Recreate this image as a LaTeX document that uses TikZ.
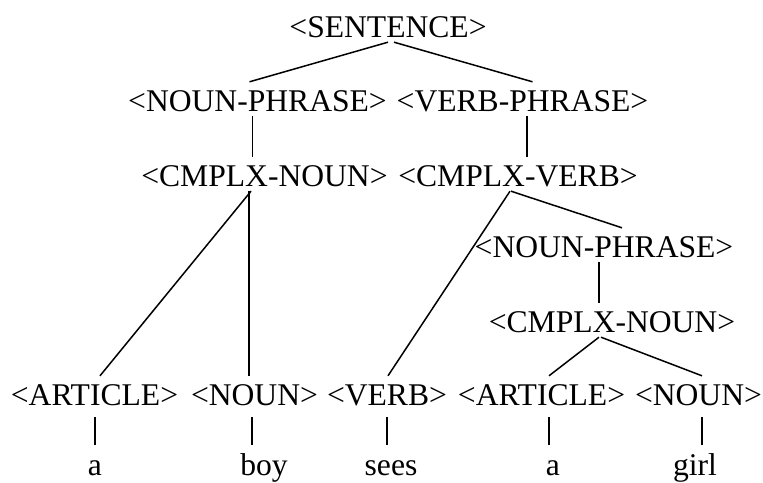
\documentclass[tikz,border=0pt]{standalone}
\usepackage{fontspec}
\setmainfont{Liberation Serif}
\tikzset{
  lbl/.style={anchor=base, inner xsep=0pt, inner ysep=5pt, text height=24pt, text depth=0pt,
    font=\fontsize{31.6}{36}\selectfont},
  edge/.style={line width=1.5pt},
  tick/.style={edge, shorten <=7pt, shorten >=1pt}
}
\begin{document}
\begin{tikzpicture}[x=1pt, y=-1pt]
  \useasboundingbox (0,0) rectangle (763,482);
  % rows of the tree
  \node[lbl] (s) at (388,37) {<SENTENCE>};
  \node[lbl] (np) at (257.5,111) {<NOUN-PHRASE>};
  \node[lbl] (vp) at (522.5,111) {<VERB-PHRASE>};
  \node[lbl] (cn) at (264.5,186) {<CMPLX-NOUN>};
  \node[lbl] (cv) at (518,186) {<CMPLX-VERB>};
  \node[lbl] (np2) at (604,257) {<NOUN-PHRASE>};
  \node[lbl] (cn2) at (612,332) {<CMPLX-NOUN>};
  \node[lbl] (art) at (94.5,405) {<ARTICLE>};
  \node[lbl] (noun) at (254.5,405) {<NOUN>};
  \node[lbl] (verb) at (387,405) {<VERB>};
  \node[lbl] (art2) at (541.5,405) {<ARTICLE>};
  \node[lbl] (noun2) at (698.5,405) {<NOUN>};
  % the words
  \node[lbl] (wa) at (95,475) {a};
  \node[lbl] (wboy) at (264,475) {boy};
  \node[lbl] (wsees) at (391,475) {sees};
  \node[lbl] (wa2) at (553,475) {a};
  \node[lbl] (wgirl) at (695,475) {girl};
  % branches
  \draw[edge] (s.south) -- ([xshift=-8pt]np.north);
  \draw[edge] ([xshift=6pt]s.south) -- ([xshift=10pt]vp.north);
  \draw[edge] ([xshift=-5pt]np.south) -- ([xshift=-12pt]cn.north);
  \draw[edge] ([xshift=4.5pt]vp.south) -- ([xshift=9pt]cv.north);
  \draw[edge] ([xshift=-13.5pt]cn.south) -- ([xshift=5.5pt]art.north);
  \draw[edge] ([xshift=-15.5pt]cn.south) -- ([xshift=-5.5pt]noun.north);
  \draw[edge] ([xshift=-8pt]cv.south) -- ([xshift=1pt]verb.north);
  \draw[edge] ([xshift=-7pt]cv.south) -- ([xshift=18pt]np2.north);
  \draw[edge] ([xshift=-5pt]np2.south) -- ([xshift=-13pt]cn2.north);
  \draw[edge] ([xshift=-13pt]cn2.south) -- ([xshift=7.5pt]art2.north);
  \draw[edge] ([xshift=-11pt]cn2.south) -- ([xshift=3.5pt]noun2.north);
  % leaves
  \draw[tick] ([xshift=0.5pt]art.south) -- (wa.north);
  \draw[tick] ([xshift=-2.5pt]noun.south) -- ([xshift=-12pt]wboy.north);
  \draw[tick] (verb.south) -- ([xshift=-4pt]wsees.north);
  \draw[tick] ([xshift=7.5pt]art2.south) -- ([xshift=-4pt]wa2.north);
  \draw[tick] ([xshift=3.5pt]noun2.south) -- ([xshift=7pt]wgirl.north);
\end{tikzpicture}
\end{document}
